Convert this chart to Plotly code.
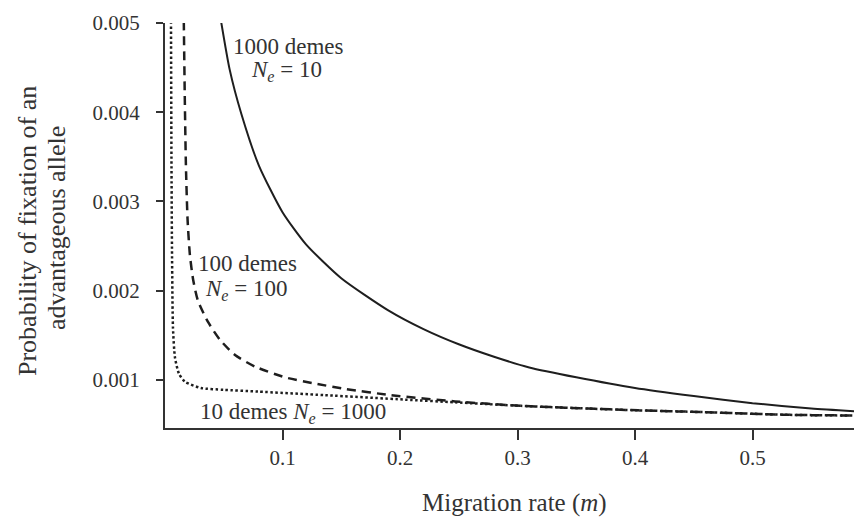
import plotly.graph_objects as go

# ---- data ----
# 1000 demes, Ne = 10 (solid)
m_1000 = [0.0477, 0.055, 0.065, 0.080, 0.100, 0.120, 0.150, 0.190, 0.220, 0.250,
          0.280, 0.310, 0.350, 0.400, 0.450, 0.500, 0.550, 0.600]
p_1000 = [0.00502, 0.00448, 0.00398, 0.00340, 0.00288, 0.00252, 0.00214, 0.00178, 0.00157, 0.00140,
          0.00126, 0.00114, 0.00103, 0.00091, 0.00082, 0.00074, 0.00068, 0.00064]

# 100 demes, Ne = 100 (dashed)
m_100 = [0.0160, 0.0168, 0.0178, 0.0192, 0.0212, 0.0240, 0.0280, 0.0366, 0.0468, 0.0596, 0.0766,
         0.1021, 0.1277, 0.1532, 0.1923, 0.2468, 0.3030, 0.3600, 0.4026, 0.4579, 0.5294, 0.6000]
p_100 = [0.00502, 0.00420, 0.00340, 0.00280, 0.00240, 0.00212, 0.00189, 0.00165, 0.00145, 0.00128, 0.00115,
         0.00103, 0.00096, 0.00090, 0.00083, 0.00076, 0.00071, 0.00068, 0.00066, 0.00064, 0.00061, 0.00060]

# 10 demes, Ne = 1000 (dotted)
m_10 = [0.0051, 0.0055, 0.0060, 0.0068, 0.0085, 0.0119, 0.0170, 0.0306, 0.0500, 0.0791, 0.1362,
        0.2043, 0.2468, 0.3030, 0.3600, 0.4026, 0.4579, 0.5294, 0.6000]
p_10 = [0.00502, 0.00349, 0.00237, 0.00158, 0.00125, 0.00107, 0.00098, 0.00091, 0.00089, 0.00087, 0.00083,
        0.00078, 0.00075, 0.00071, 0.00068, 0.00066, 0.00064, 0.00061, 0.00060]

x_ticks = [0.1, 0.2, 0.3, 0.4, 0.5]
x_tick_labels = ["0.1", "0.2", "0.3", "0.4", "0.5"]
y_ticks = [0.001, 0.002, 0.003, 0.004, 0.005]
y_tick_labels = ["0.001", "0.002", "0.003", "0.004", "0.005"]

INK = "#1e1e1e"
TXT = "#333333"
SERIF = "Liberation Serif"

fig = go.Figure()
fig.add_trace(go.Scatter(x=m_1000, y=p_1000, mode="lines",
                         line=dict(color=INK, width=2, shape="spline", smoothing=0.6)))
fig.add_trace(go.Scatter(x=m_100, y=p_100, mode="lines",
                         line=dict(color=INK, width=2.5, dash="9px,6px", shape="spline", smoothing=0.6)))
fig.add_trace(go.Scatter(x=m_10, y=p_10, mode="lines",
                         line=dict(color=INK, width=2.5, dash="2.5px,2.5px", shape="spline", smoothing=0.6)))

fig.update_layout(
    width=862, height=521,
    margin=dict(l=157, r=0, t=15, b=101),
    paper_bgcolor="white", plot_bgcolor="white",
    showlegend=False,
    font=dict(family=SERIF, color=TXT),
    xaxis=dict(range=[0, 0.6], showgrid=False, zeroline=False,
               showline=True, linecolor="#333", linewidth=2,
               ticks="outside", ticklen=10, tickwidth=2, tickcolor="#333",
               tickvals=x_ticks, ticktext=x_tick_labels,
               tickfont=dict(size=21, family=SERIF, color=TXT)),
    yaxis=dict(range=[0.000462, 0.005], showgrid=False, zeroline=False,
               showline=True, linecolor="#333", linewidth=2,
               ticks="outside", ticklen=7, tickwidth=2, tickcolor="#333",
               tickvals=y_ticks, ticktext=y_tick_labels,
               ticklabelstandoff=12,
               tickfont=dict(size=21, family=SERIF, color=TXT)),
)

def px_ann(text, x_px, y_px, size, angle=0):
    fig.add_annotation(text=text, xref="paper", yref="paper",
                       x=(x_px - 157) / 705, y=(420 - y_px) / 405,
                       xanchor="center", yanchor="middle", showarrow=False,
                       textangle=angle, font=dict(family=SERIF, size=size, color=TXT))

# curve labels
px_ann("1000 demes", 280, 38, 23)
px_ann("<i>N<sub>e</sub></i> = 10", 278, 63, 23)
px_ann("100 demes", 239, 255, 23)
px_ann("<i>N<sub>e</sub></i> = 100", 238, 282, 23)
px_ann("10 demes <i>N<sub>e</sub></i> = 1000", 285, 405, 23)

# axis titles
px_ann("Migration rate (<i>m</i>)", 506, 495, 25)
px_ann("Probability of fixation of an", 20, 223, 26, angle=-90)
px_ann("advantageous allele", 48, 220, 26, angle=-90)

fig.write_html("out.html")
